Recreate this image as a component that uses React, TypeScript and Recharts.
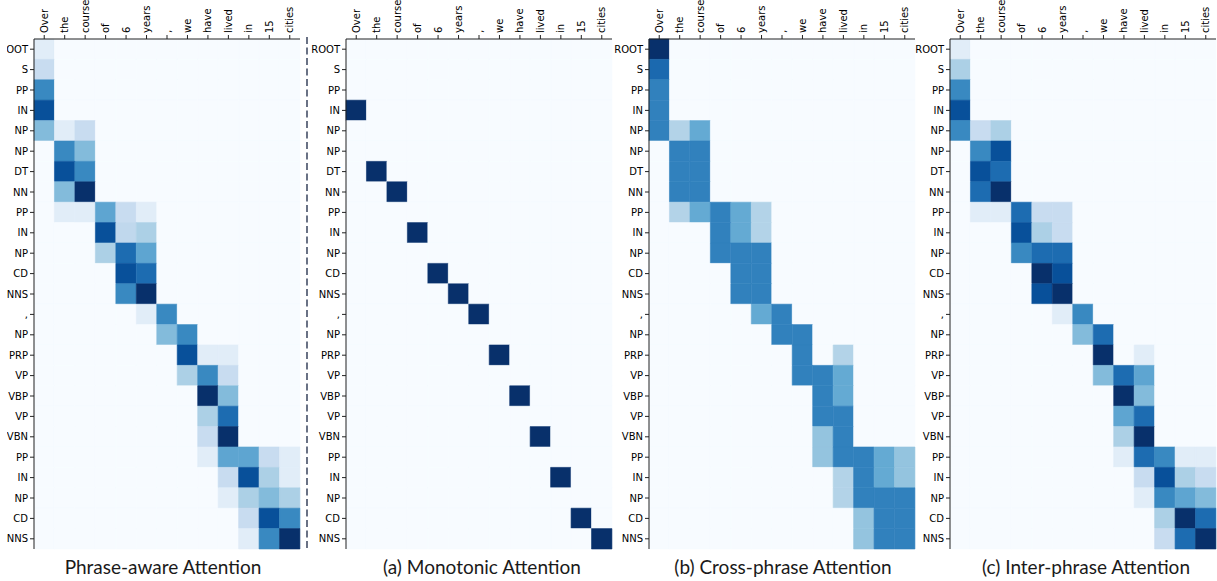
import React from 'react';
import { BarChart, Bar, XAxis, YAxis, Cell, CartesianGrid } from 'recharts';

const WORDS = ['Over', 'the', 'course', 'of', '6', 'years', ',', 'we', 'have', 'lived', 'in', '15', 'cities'];
const TAGS = ['ROOT', 'S', 'PP', 'IN', 'NP', 'NP', 'DT', 'NN', 'PP', 'IN', 'NP', 'CD', 'NNS', ',', 'NP', 'PRP', 'VP', 'VBP', 'VP', 'VBN', 'PP', 'IN', 'NP', 'CD', 'NNS'];

// attention weights: one row per tag, one column per word
const PHRASE_AWARE = [
  [0.11, 0, 0, 0, 0, 0, 0, 0, 0, 0, 0, 0, 0],
  [0.24, 0, 0, 0, 0, 0, 0, 0, 0, 0, 0, 0, 0],
  [0.66, 0, 0, 0, 0, 0, 0, 0, 0, 0, 0, 0, 0],
  [0.88, 0, 0, 0, 0, 0, 0, 0, 0, 0, 0, 0, 0],
  [0.44, 0.11, 0.24, 0, 0, 0, 0, 0, 0, 0, 0, 0, 0],
  [0, 0.66, 0.44, 0, 0, 0, 0, 0, 0, 0, 0, 0, 0],
  [0, 0.88, 0.66, 0, 0, 0, 0, 0, 0, 0, 0, 0, 0],
  [0, 0.44, 1, 0, 0, 0, 0, 0, 0, 0, 0, 0, 0],
  [0, 0.11, 0.11, 0.54, 0.24, 0.11, 0, 0, 0, 0, 0, 0, 0],
  [0, 0, 0, 0.88, 0.27, 0.33, 0, 0, 0, 0, 0, 0, 0],
  [0, 0, 0, 0.33, 0.77, 0.54, 0, 0, 0, 0, 0, 0, 0],
  [0, 0, 0, 0, 0.88, 0.77, 0, 0, 0, 0, 0, 0, 0],
  [0, 0, 0, 0, 0.66, 1, 0, 0, 0, 0, 0, 0, 0],
  [0, 0, 0, 0, 0, 0.11, 0.66, 0, 0, 0, 0, 0, 0],
  [0, 0, 0, 0, 0, 0, 0.44, 0.66, 0, 0, 0, 0, 0],
  [0, 0, 0, 0, 0, 0, 0, 0.88, 0.11, 0.11, 0, 0, 0],
  [0, 0, 0, 0, 0, 0, 0, 0.33, 0.66, 0.24, 0, 0, 0],
  [0, 0, 0, 0, 0, 0, 0, 0, 1, 0.44, 0, 0, 0],
  [0, 0, 0, 0, 0, 0, 0, 0, 0.33, 0.77, 0, 0, 0],
  [0, 0, 0, 0, 0, 0, 0, 0, 0.24, 1, 0, 0, 0],
  [0, 0, 0, 0, 0, 0, 0, 0, 0.11, 0.54, 0.54, 0.24, 0.11],
  [0, 0, 0, 0, 0, 0, 0, 0, 0, 0.24, 0.88, 0.33, 0.11],
  [0, 0, 0, 0, 0, 0, 0, 0, 0, 0.11, 0.33, 0.44, 0.33],
  [0, 0, 0, 0, 0, 0, 0, 0, 0, 0, 0.24, 0.88, 0.66],
  [0, 0, 0, 0, 0, 0, 0, 0, 0, 0, 0.11, 0.66, 1],
];

const MONOTONIC = [
  [0, 0, 0, 0, 0, 0, 0, 0, 0, 0, 0, 0, 0],
  [0, 0, 0, 0, 0, 0, 0, 0, 0, 0, 0, 0, 0],
  [0, 0, 0, 0, 0, 0, 0, 0, 0, 0, 0, 0, 0],
  [1, 0, 0, 0, 0, 0, 0, 0, 0, 0, 0, 0, 0],
  [0, 0, 0, 0, 0, 0, 0, 0, 0, 0, 0, 0, 0],
  [0, 0, 0, 0, 0, 0, 0, 0, 0, 0, 0, 0, 0],
  [0, 1, 0, 0, 0, 0, 0, 0, 0, 0, 0, 0, 0],
  [0, 0, 1, 0, 0, 0, 0, 0, 0, 0, 0, 0, 0],
  [0, 0, 0, 0, 0, 0, 0, 0, 0, 0, 0, 0, 0],
  [0, 0, 0, 1, 0, 0, 0, 0, 0, 0, 0, 0, 0],
  [0, 0, 0, 0, 0, 0, 0, 0, 0, 0, 0, 0, 0],
  [0, 0, 0, 0, 1, 0, 0, 0, 0, 0, 0, 0, 0],
  [0, 0, 0, 0, 0, 1, 0, 0, 0, 0, 0, 0, 0],
  [0, 0, 0, 0, 0, 0, 1, 0, 0, 0, 0, 0, 0],
  [0, 0, 0, 0, 0, 0, 0, 0, 0, 0, 0, 0, 0],
  [0, 0, 0, 0, 0, 0, 0, 1, 0, 0, 0, 0, 0],
  [0, 0, 0, 0, 0, 0, 0, 0, 0, 0, 0, 0, 0],
  [0, 0, 0, 0, 0, 0, 0, 0, 1, 0, 0, 0, 0],
  [0, 0, 0, 0, 0, 0, 0, 0, 0, 0, 0, 0, 0],
  [0, 0, 0, 0, 0, 0, 0, 0, 0, 1, 0, 0, 0],
  [0, 0, 0, 0, 0, 0, 0, 0, 0, 0, 0, 0, 0],
  [0, 0, 0, 0, 0, 0, 0, 0, 0, 0, 1, 0, 0],
  [0, 0, 0, 0, 0, 0, 0, 0, 0, 0, 0, 0, 0],
  [0, 0, 0, 0, 0, 0, 0, 0, 0, 0, 0, 1, 0],
  [0, 0, 0, 0, 0, 0, 0, 0, 0, 0, 0, 0, 1],
];

const CROSS_PHRASE = [
  [1, 0, 0, 0, 0, 0, 0, 0, 0, 0, 0, 0, 0],
  [0.78, 0, 0, 0, 0, 0, 0, 0, 0, 0, 0, 0, 0],
  [0.69, 0, 0, 0, 0, 0, 0, 0, 0, 0, 0, 0, 0],
  [0.69, 0, 0, 0, 0, 0, 0, 0, 0, 0, 0, 0, 0],
  [0.69, 0.31, 0.52, 0, 0, 0, 0, 0, 0, 0, 0, 0, 0],
  [0, 0.69, 0.69, 0, 0, 0, 0, 0, 0, 0, 0, 0, 0],
  [0, 0.69, 0.69, 0, 0, 0, 0, 0, 0, 0, 0, 0, 0],
  [0, 0.69, 0.69, 0, 0, 0, 0, 0, 0, 0, 0, 0, 0],
  [0, 0.31, 0.52, 0.69, 0.52, 0.31, 0, 0, 0, 0, 0, 0, 0],
  [0, 0, 0, 0.69, 0.52, 0.31, 0, 0, 0, 0, 0, 0, 0],
  [0, 0, 0, 0.69, 0.69, 0.69, 0, 0, 0, 0, 0, 0, 0],
  [0, 0, 0, 0, 0.69, 0.69, 0, 0, 0, 0, 0, 0, 0],
  [0, 0, 0, 0, 0.69, 0.69, 0, 0, 0, 0, 0, 0, 0],
  [0, 0, 0, 0, 0, 0.52, 0.69, 0, 0, 0, 0, 0, 0],
  [0, 0, 0, 0, 0, 0, 0.69, 0.69, 0, 0, 0, 0, 0],
  [0, 0, 0, 0, 0, 0, 0, 0.69, 0, 0.31, 0, 0, 0],
  [0, 0, 0, 0, 0, 0, 0, 0.69, 0.69, 0.52, 0, 0, 0],
  [0, 0, 0, 0, 0, 0, 0, 0, 0.69, 0.52, 0, 0, 0],
  [0, 0, 0, 0, 0, 0, 0, 0, 0.69, 0.69, 0, 0, 0],
  [0, 0, 0, 0, 0, 0, 0, 0, 0.4, 0.69, 0, 0, 0],
  [0, 0, 0, 0, 0, 0, 0, 0, 0.4, 0.69, 0.69, 0.52, 0.4],
  [0, 0, 0, 0, 0, 0, 0, 0, 0, 0.31, 0.69, 0.52, 0.4],
  [0, 0, 0, 0, 0, 0, 0, 0, 0, 0.31, 0.69, 0.69, 0.69],
  [0, 0, 0, 0, 0, 0, 0, 0, 0, 0, 0.4, 0.69, 0.69],
  [0, 0, 0, 0, 0, 0, 0, 0, 0, 0, 0.4, 0.69, 0.69],
];

const INTER_PHRASE = [
  [0.11, 0, 0, 0, 0, 0, 0, 0, 0, 0, 0, 0, 0],
  [0.33, 0, 0, 0, 0, 0, 0, 0, 0, 0, 0, 0, 0],
  [0.66, 0, 0, 0, 0, 0, 0, 0, 0, 0, 0, 0, 0],
  [0.88, 0, 0, 0, 0, 0, 0, 0, 0, 0, 0, 0, 0],
  [0.66, 0.24, 0.33, 0, 0, 0, 0, 0, 0, 0, 0, 0, 0],
  [0, 0.66, 0.88, 0, 0, 0, 0, 0, 0, 0, 0, 0, 0],
  [0, 0.88, 0.77, 0, 0, 0, 0, 0, 0, 0, 0, 0, 0],
  [0, 0.77, 1, 0, 0, 0, 0, 0, 0, 0, 0, 0, 0],
  [0, 0.11, 0.11, 0.77, 0.24, 0.24, 0, 0, 0, 0, 0, 0, 0],
  [0, 0, 0, 0.88, 0.33, 0.24, 0, 0, 0, 0, 0, 0, 0],
  [0, 0, 0, 0.66, 0.77, 0.77, 0, 0, 0, 0, 0, 0, 0],
  [0, 0, 0, 0, 1, 0.88, 0, 0, 0, 0, 0, 0, 0],
  [0, 0, 0, 0, 0.88, 1, 0, 0, 0, 0, 0, 0, 0],
  [0, 0, 0, 0, 0, 0.11, 0.66, 0, 0, 0, 0, 0, 0],
  [0, 0, 0, 0, 0, 0, 0.44, 0.77, 0, 0, 0, 0, 0],
  [0, 0, 0, 0, 0, 0, 0, 1, 0, 0.11, 0, 0, 0],
  [0, 0, 0, 0, 0, 0, 0, 0.44, 0.77, 0.54, 0, 0, 0],
  [0, 0, 0, 0, 0, 0, 0, 0, 1, 0.44, 0, 0, 0],
  [0, 0, 0, 0, 0, 0, 0, 0, 0.54, 0.77, 0, 0, 0],
  [0, 0, 0, 0, 0, 0, 0, 0, 0.33, 1, 0, 0, 0],
  [0, 0, 0, 0, 0, 0, 0, 0, 0.11, 0.77, 0.66, 0.11, 0.11],
  [0, 0, 0, 0, 0, 0, 0, 0, 0, 0.24, 0.88, 0.33, 0.24],
  [0, 0, 0, 0, 0, 0, 0, 0, 0, 0.11, 0.66, 0.54, 0.44],
  [0, 0, 0, 0, 0, 0, 0, 0, 0, 0, 0.33, 1, 0.77],
  [0, 0, 0, 0, 0, 0, 0, 0, 0, 0, 0.24, 0.77, 1],
];

// matplotlib "Blues"
const BLUES = ['#f7fbff', '#deebf7', '#c6dbef', '#9ecae1', '#6baed6', '#4292c6', '#2171b5', '#08519c', '#08306b'];

const hexToRgb = (h: string) => [1, 3, 5].map((i) => parseInt(h.slice(i, i + 2), 16));

const blues = (v: number) => {
  const t = Math.max(0, Math.min(1, v)) * (BLUES.length - 1);
  const i = Math.min(BLUES.length - 2, Math.floor(t));
  const f = t - i;
  const a = hexToRgb(BLUES[i]);
  const b = hexToRgb(BLUES[i + 1]);
  const c = a.map((x, k) => Math.round(x + (b[k] - x) * f));
  return `rgb(${c[0]},${c[1]},${c[2]})`;
};

const PLOT_W = 265;
const PLOT_H = 509;
const TOP_H = 39;
const tickStyle: React.CSSProperties = { fontFamily: '"DejaVu Sans"', fontSize: '10px' };

const WordTick: React.FC<any> = ({ x, y, payload }) => (
  <text
    x={x}
    y={y}
    dy="0.35em"
    transform={`rotate(-90, ${x}, ${y})`}
    textAnchor="start"
    fill="#000"
    style={tickStyle}
  >
    {payload.value}
  </text>
);

const TagTick: React.FC<any> = ({ x, y, payload }) => (
  <text x={x} y={y} dy="0.35em" textAnchor="end" fill="#000" style={tickStyle}>
    {TAGS[Math.floor(payload.value)]}
  </text>
);

const Heatmap: React.FC<{ matrix: number[][]; plotLeft: number; yw: number; clip: number }> = ({ matrix, plotLeft, yw, clip }) => {
  // one entry per word column, each row a unit block in the stack
  const data = WORDS.map((w) => {
    const d: any = { word: w };
    TAGS.forEach((_, r) => (d[`r${r}`] = 1));
    return d;
  });
  const w = yw + PLOT_W + 2;
  const h = TOP_H + PLOT_H + 2;

  return (
    <div style={{ position: 'absolute', left: plotLeft - yw + clip, top: 0, width: w - clip, height: h, overflow: 'hidden' }}>
      <div style={{ position: 'absolute', left: -clip, top: 0 }}>
        <BarChart width={w} height={h} data={data} margin={{ top: 0, right: 1, bottom: 1, left: 0 }} barCategoryGap={0} barGap={0}>
          <CartesianGrid horizontal={false} vertical={false} fill={BLUES[0]} />
          {TAGS.map((_, r) => (
            <Bar key={r} dataKey={`r${r}`} stackId="a" barSize={PLOT_W / WORDS.length} isAnimationActive={false}>
              {WORDS.map((_, c) => {
                const col = blues(matrix[r][c]);
                return <Cell key={c} fill={col} stroke={col} strokeWidth={0.6} />;
              })}
            </Bar>
          ))}
          <XAxis
            dataKey="word"
            orientation="top"
            height={TOP_H}
            interval={0}
            tickSize={4}
            tickMargin={2}
            tick={<WordTick />}
            tickLine={{ stroke: '#222' }}
            axisLine={{ stroke: '#222' }}
          />
          <XAxis xAxisId="b" dataKey="word" orientation="bottom" height={0} tick={false} tickLine={false} axisLine={{ stroke: '#222' }} />
          <YAxis
            type="number"
            domain={[0, TAGS.length]}
            reversed
            width={yw}
            interval={0}
            ticks={TAGS.map((_, i) => i + 0.5)}
            tickSize={4}
            tickMargin={2}
            tick={<TagTick />}
            tickLine={{ stroke: '#222' }}
            axisLine={{ stroke: '#222' }}
          />
          <YAxis yAxisId="r" type="number" domain={[0, 1]} orientation="right" width={0} tick={false} tickLine={false} axisLine={{ stroke: '#222' }} />
        </BarChart>
      </div>
    </div>
  );
};

const PANELS = [
  { title: 'Phrase-aware Attention', matrix: PHRASE_AWARE, plotLeft: 34, yw: 34, clip: 7, titleX: 163 },
  { title: '(a) Monotonic Attention', matrix: MONOTONIC, plotLeft: 346, yw: 40, clip: 0, titleX: 482 },
  { title: '(b) Cross-phrase Attention', matrix: CROSS_PHRASE, plotLeft: 649, yw: 40, clip: 0, titleX: 783 },
  { title: '(c) Inter-phrase Attention', matrix: INTER_PHRASE, plotLeft: 950, yw: 40, clip: 0, titleX: 1086 },
];

const App: React.FC = () => (
  <div style={{ position: 'absolute', left: 0, top: 0, width: 1217, height: 581, background: '#fff', overflow: 'hidden' }}>
    {PANELS.map((p) => (
      <Heatmap key={p.title} matrix={p.matrix} plotLeft={p.plotLeft} yw={p.yw} clip={p.clip} />
    ))}
    <svg style={{ position: 'absolute', left: 300, top: 0 }} width={14} height={560}>
      <line x1={7} y1={37} x2={7} y2={548} stroke="#5a6378" strokeWidth={1.8} strokeDasharray="7 3.5" />
    </svg>
    {PANELS.map((p) => (
      <div
        key={p.title}
        style={{
          position: 'absolute',
          left: p.titleX - 150,
          width: 300,
          top: 555,
          textAlign: 'center',
          fontFamily: 'Lato, sans-serif',
          fontSize: 19,
          lineHeight: '23px',
          color: '#1a1a1a',
        }}
      >
        {p.title}
      </div>
    ))}
  </div>
);

export default App;
